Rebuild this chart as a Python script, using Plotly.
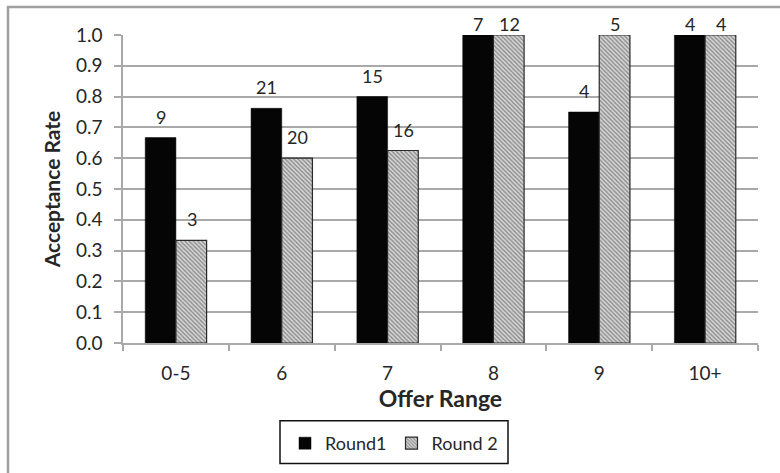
import plotly.graph_objects as go

# Acceptance rate by offer range, two rounds; labels give the number of offers
categories = ["0-5", "6", "7", "8", "9", "10+"]
round1_rate = [0.667, 0.762, 0.80, 1.0, 0.75, 1.0]
round2_rate = [0.333, 0.60, 0.625, 1.0, 1.0, 1.0]
round1_n = [9, 21, 15, 7, 4, 4]
round2_n = [3, 20, 16, 12, 5, 4]
y_ticks = [0.0, 0.1, 0.2, 0.3, 0.4, 0.5, 0.6, 0.7, 0.8, 0.9, 1.0]

FONT = "Lato"
TXT = "#262626"
GRID = "#a9a9a9"

fig = go.Figure()
fig.add_trace(go.Bar(
    name="Round1", x=categories, y=round1_rate,
    marker=dict(color="#050505", line=dict(color="#050505", width=0.5)),
))
fig.add_trace(go.Bar(
    name="Round 2", x=categories, y=round2_rate,
    marker=dict(
        color="#c8c8c8",
        line=dict(color="#2a2a2a", width=1.2),
        pattern=dict(shape="\\", size=3, solidity=0.5,
                     fgcolor="#474747", bgcolor="#d9d9d9"),
    ),
))


def label_shift(v):
    # labels on full-height bars are kept just inside the top of the chart
    return 11 if v >= 0.99 else 21


# count labels above each bar (positioned by category index)
for i, (v, n) in enumerate(zip(round1_rate, round1_n)):
    fig.add_annotation(x=i, y=v, text=str(n), showarrow=False,
                       xref="x", yref="y", xshift=-15, yshift=label_shift(v),
                       font=dict(family=FONT, size=18, color=TXT))
for i, (v, n) in enumerate(zip(round2_rate, round2_n)):
    fig.add_annotation(x=i, y=v, text=str(n), showarrow=False,
                       xref="x", yref="y", xshift=16, yshift=label_shift(v),
                       font=dict(family=FONT, size=18, color=TXT))

# outer chart frame
fig.add_shape(type="rect", xref="paper", yref="paper",
              x0=-0.1811, x1=1.05, y0=-0.45, y1=1.0906,
              line=dict(color="#a0a0a0", width=2.5), layer="below")
# legend frame
fig.add_shape(type="rect", xref="paper", yref="paper",
              x0=(280 - 123) / 635, x1=(508 - 123) / 635,
              y0=(344 - 465) / 309, y1=(344 - 422) / 309,
              line=dict(color="#111111", width=1.5), layer="below")

fig.update_layout(
    width=780, height=473,
    margin=dict(l=123, r=22, t=35, b=129),
    paper_bgcolor="white", plot_bgcolor="white",
    barmode="group", bargap=0.42, bargroupgap=0,
    font=dict(family=FONT, color=TXT),
    legend=dict(
        orientation="h", x=(394 - 123) / 635, xanchor="center",
        y=(344 - 443.5) / 309, yanchor="middle",
        borderwidth=0, bgcolor="rgba(0,0,0,0)",
        font=dict(family=FONT, size=18, color=TXT),
        itemwidth=30, tracegroupgap=0,
    ),
    xaxis=dict(
        type="category", range=[-0.5, 5.5], showgrid=False, tickson="boundaries",
        ticks="outside", ticklen=6, tickcolor=GRID, tickwidth=1.5,
        showline=True, linecolor=GRID, linewidth=1.5,
        ticklabelstandoff=12,
        tickfont=dict(family=FONT, size=19, color=TXT),
        title=dict(text="<b>Offer Range</b>", standoff=2,
                   font=dict(family=FONT, size=23, color=TXT)),
    ),
    yaxis=dict(
        range=[0, 1], tickvals=y_ticks, ticktext=[f"{t:.1f}" for t in y_ticks],
        showgrid=True, gridcolor=GRID, gridwidth=1.5, zeroline=False,
        ticks="outside", ticklen=7, tickcolor=GRID, tickwidth=1.5,
        showline=True, linecolor=GRID, linewidth=1.5,
        ticklabelstandoff=8,
        tickfont=dict(family=FONT, size=19, color=TXT),
        title=dict(text="<b>Acceptance Rate</b>", standoff=10,
                   font=dict(family=FONT, size=21, color=TXT)),
    ),
)

fig.write_html("out.html")
